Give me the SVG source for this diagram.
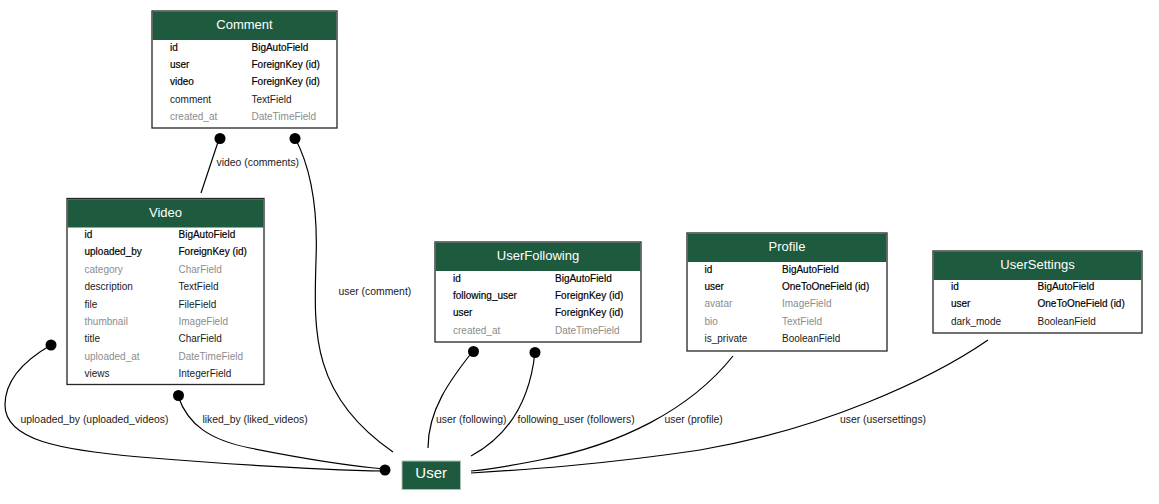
<svg xmlns="http://www.w3.org/2000/svg" width="1159" height="504" viewBox="0 0 1159 504">
  <style>
    text { font-family: "Liberation Sans", Arial, sans-serif; }
    .box { fill: #ffffff; stroke: #262626; stroke-width: 1.3; }
    .hdr { fill: #1e5a3e; }
    .title { font-size: 13px; fill: #ffffff; text-anchor: middle; }
    .f { font-size: 10px; fill: #1a1a1a; }
    .k { fill: #000000; stroke: #000000; stroke-width: 0.18; }
    .g { fill: #8c8c8c; }
    .edge { fill: none; stroke: #000000; stroke-width: 1.2; }
    .dot { fill: #000000; }
    .lbl { font-size: 10.4px; fill: #1a1a1a; }
  </style>

  <!-- relations -->
  <g id="connectors">
    <path class="edge" d="M219,139 L201,193"/>
    <circle class="dot" cx="220" cy="138.5" r="5.5"/>
    <text class="lbl" x="216.5" y="166">video (comments)</text>

    <path class="edge" d="M295,138 C312,170 318,210 316,260 C314,330 310,395 393,452"/>
    <circle class="dot" cx="295" cy="138.5" r="5.5"/>
    <text class="lbl" x="338.5" y="295">user (comment)</text>

    <path class="edge" d="M51,345 C25,360 5,380 5,405 C5,440 60,450 140,457 C250,466 330,470 385,471"/>
    <circle class="dot" cx="51" cy="345" r="5.5"/>
    <text class="lbl" x="20.5" y="423">uploaded_by (uploaded_videos)</text>

    <path class="edge" d="M178,396 C188,425 210,440 250,448 C300,458 340,465 385,469"/>
    <circle class="dot" cx="178.5" cy="395.5" r="5.5"/>
    <text class="lbl" x="202.5" y="423">liked_by (liked_videos)</text>
    <circle class="dot" cx="385" cy="470" r="5.5"/>

    <path class="edge" d="M473,351 C450,380 428,410 428,448"/>
    <circle class="dot" cx="473.5" cy="351.5" r="5.5"/>
    <text class="lbl" x="436" y="423">user (following)</text>

    <path class="edge" d="M535,352 C530,400 510,435 471,456"/>
    <circle class="dot" cx="535" cy="352.5" r="5.5"/>
    <text class="lbl" x="517.5" y="423">following_user (followers)</text>

    <path class="edge" d="M733,356 C690,410 620,445 540,460 C510,466 490,469 471,471"/>
    <text class="lbl" x="664.5" y="423">user (profile)</text>

    <path class="edge" d="M988,340 C930,380 820,430 700,450 C600,465 520,470 471,473"/>
    <text class="lbl" x="840" y="423">user (usersettings)</text>
  </g>

  <!-- Comment -->
  <g id="node-comment">
    <rect class="box" x="152" y="11" width="185" height="117"/>
    <rect class="hdr" x="152.7" y="11.7" width="183.6" height="28.3"/>
    <text class="title" x="244.5" y="29">Comment</text>
    <text class="f k" x="170" y="50.5">id</text><text class="f k" x="251.5" y="50.5">BigAutoField</text>
    <text class="f k" x="170" y="67.9">user</text><text class="f k" x="251.5" y="67.9">ForeignKey (id)</text>
    <text class="f k" x="170" y="85.3">video</text><text class="f k" x="251.5" y="85.3">ForeignKey (id)</text>
    <text class="f" x="170" y="102.7">comment</text><text class="f" x="251.5" y="102.7">TextField</text>
    <text class="f g" x="170" y="120.1">created_at</text><text class="f g" x="251.5" y="120.1">DateTimeField</text>
  </g>

  <!-- Video -->
  <g id="node-video">
    <rect class="box" x="67" y="198.5" width="197" height="186"/>
    <rect class="hdr" x="67.7" y="199.2" width="195.6" height="28.3"/>
    <text class="title" x="165.5" y="216.5">Video</text>
    <text class="f k" x="84.5" y="238">id</text><text class="f k" x="178.5" y="238">BigAutoField</text>
    <text class="f k" x="84.5" y="255.4">uploaded_by</text><text class="f k" x="178.5" y="255.4">ForeignKey (id)</text>
    <text class="f g" x="84.5" y="272.8">category</text><text class="f g" x="178.5" y="272.8">CharField</text>
    <text class="f" x="84.5" y="290.2">description</text><text class="f" x="178.5" y="290.2">TextField</text>
    <text class="f" x="84.5" y="307.6">file</text><text class="f" x="178.5" y="307.6">FileField</text>
    <text class="f g" x="84.5" y="325">thumbnail</text><text class="f g" x="178.5" y="325">ImageField</text>
    <text class="f" x="84.5" y="342.4">title</text><text class="f" x="178.5" y="342.4">CharField</text>
    <text class="f g" x="84.5" y="359.8">uploaded_at</text><text class="f g" x="178.5" y="359.8">DateTimeField</text>
    <text class="f" x="84.5" y="377.2">views</text><text class="f" x="178.5" y="377.2">IntegerField</text>
  </g>

  <!-- UserFollowing -->
  <g id="node-userfollowing">
    <rect class="box" x="435" y="242" width="206" height="100"/>
    <rect class="hdr" x="435.7" y="242.7" width="204.6" height="28.3"/>
    <text class="title" x="538" y="259.5">UserFollowing</text>
    <text class="f k" x="453" y="281.5">id</text><text class="f k" x="555" y="281.5">BigAutoField</text>
    <text class="f k" x="453" y="298.9">following_user</text><text class="f k" x="555" y="298.9">ForeignKey (id)</text>
    <text class="f k" x="453" y="316.3">user</text><text class="f k" x="555" y="316.3">ForeignKey (id)</text>
    <text class="f g" x="453" y="333.7">created_at</text><text class="f g" x="555" y="333.7">DateTimeField</text>
  </g>

  <!-- Profile -->
  <g id="node-profile">
    <rect class="box" x="687" y="233" width="200" height="118"/>
    <rect class="hdr" x="687.7" y="233.7" width="198.6" height="28.3"/>
    <text class="title" x="787" y="250.5">Profile</text>
    <text class="f k" x="704.5" y="272.5">id</text><text class="f k" x="782" y="272.5">BigAutoField</text>
    <text class="f k" x="704.5" y="289.9">user</text><text class="f k" x="782" y="289.9">OneToOneField (id)</text>
    <text class="f g" x="704.5" y="307.3">avatar</text><text class="f g" x="782" y="307.3">ImageField</text>
    <text class="f g" x="704.5" y="324.7">bio</text><text class="f g" x="782" y="324.7">TextField</text>
    <text class="f" x="704.5" y="342.1">is_private</text><text class="f" x="782" y="342.1">BooleanField</text>
  </g>

  <!-- UserSettings -->
  <g id="node-usersettings">
    <rect class="box" x="933" y="251" width="209" height="82"/>
    <rect class="hdr" x="933.7" y="251.7" width="207.6" height="28.3"/>
    <text class="title" x="1037.5" y="268.5">UserSettings</text>
    <text class="f k" x="951" y="290">id</text><text class="f k" x="1037.5" y="290">BigAutoField</text>
    <text class="f k" x="951" y="307.4">user</text><text class="f k" x="1037.5" y="307.4">OneToOneField (id)</text>
    <text class="f" x="951" y="324.8">dark_mode</text><text class="f" x="1037.5" y="324.8">BooleanField</text>
  </g>

  <!-- User -->
  <g id="node-user">
    <rect x="402" y="461" width="58.5" height="28.5" fill="#1e5a3e" stroke="#a9c2b5" stroke-width="1"/>
    <text x="431.2" y="478" font-size="15" fill="#ffffff" text-anchor="middle">User</text>
  </g>
</svg>
